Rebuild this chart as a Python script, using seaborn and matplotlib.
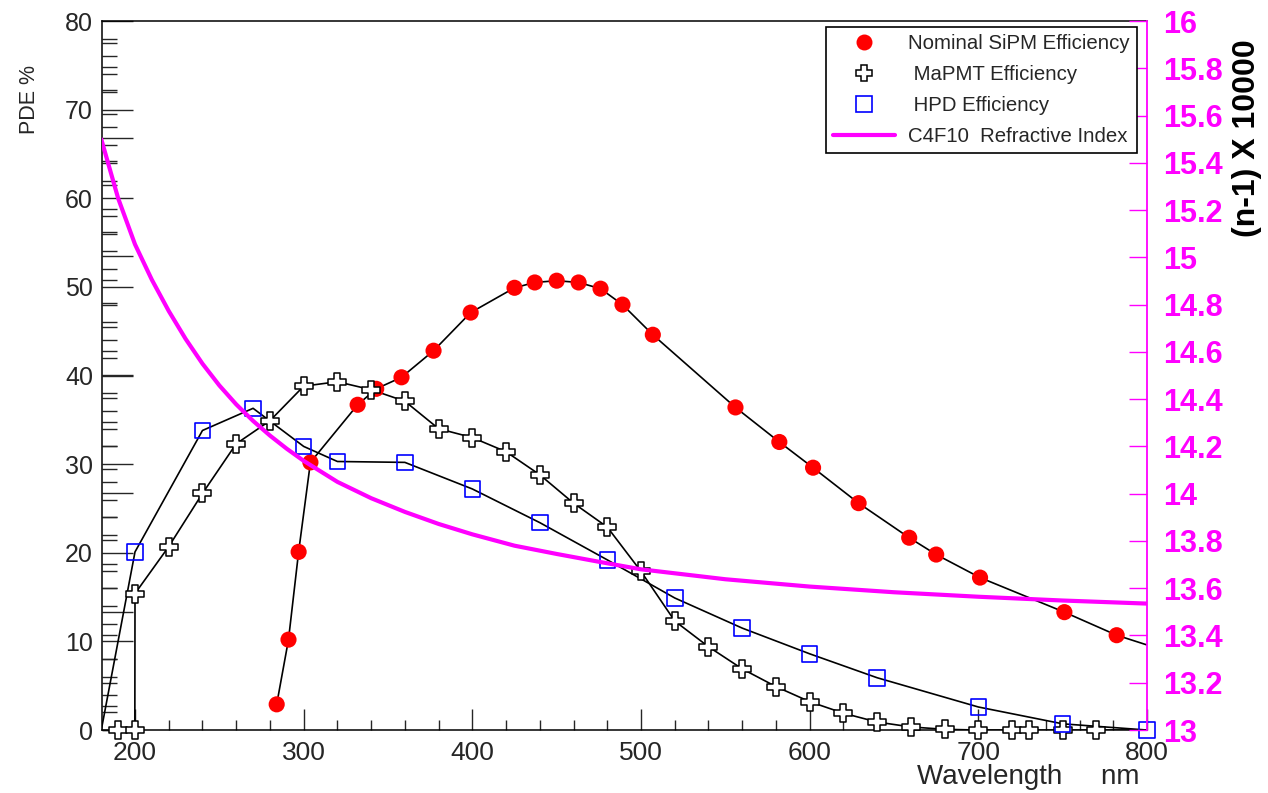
import matplotlib
matplotlib.use("Agg")
import matplotlib.pyplot as plt
from matplotlib.lines import Line2D
from matplotlib.ticker import MultipleLocator, FuncFormatter
import seaborn as sns
import numpy as np

# Nominal SiPM PDE (%)
sipm_nm = [284, 291, 297, 304, 332, 343, 358, 377, 399, 425, 437, 450, 463, 476, 489,
           507, 556, 582, 602, 629, 659, 675, 701, 751, 782]
sipm_pde = [2.9, 10.2, 20.1, 30.2, 36.7, 38.5, 39.8, 42.8, 47.1, 49.9, 50.5, 50.7, 50.5,
            49.8, 48.0, 44.6, 36.4, 32.5, 29.6, 25.6, 21.7, 19.8, 17.2, 13.3, 10.7]
sipm_tail_nm = [800]
sipm_tail_pde = [9.6]

# MaPMT efficiency (%)
mapmt_nm = [190, 199.9, 200, 220, 240, 260, 280, 300, 320, 340, 360, 380, 400, 420, 440,
            460, 480, 500, 520, 540, 560, 580, 600, 620, 640, 660, 680, 700, 720, 730,
            750, 770]
mapmt_pde = [0, 0, 15.4, 20.7, 26.7, 32.3, 34.9, 38.8, 39.3, 38.4, 37.1, 34.0, 33.0, 31.4,
             28.8, 25.6, 22.9, 17.9, 12.3, 9.4, 6.9, 4.9, 3.2, 1.9, 0.9, 0.35, 0.08, 0, 0,
             0, 0, 0]
mapmt_tail_nm = [800]
mapmt_tail_pde = [0]

# HPD efficiency (%)
hpd_nm = [200, 240, 270, 300, 320, 360, 400, 440, 480, 520, 560, 600, 640, 700, 750, 800]
hpd_pde = [20.1, 33.8, 36.3, 32.0, 30.3, 30.2, 27.2, 23.4, 19.2, 14.9, 11.5, 8.6, 5.9,
           2.6, 0.7, 0.0]
hpd_head_nm = [180]
hpd_head_pde = [0]

# C4F10 (n-1) x 10000
c4f10_nm = [180, 190, 200, 210, 220, 230, 240, 250, 260, 270, 280, 290, 300, 320, 340,
            360, 380, 400, 425, 450, 475, 500, 550, 600, 650, 700, 750, 800]
c4f10_n = [15.50, 15.25, 15.055, 14.905, 14.773, 14.655, 14.55, 14.458, 14.378, 14.308,
           14.246, 14.19, 14.139, 14.05, 13.981, 13.923, 13.872, 13.828, 13.78, 13.745,
           13.712, 13.68, 13.638, 13.607, 13.583, 13.564, 13.548, 13.535]

sns.set_style("ticks")
plt.rcParams['font.family'] = ['Liberation Sans', 'DejaVu Sans']

fig, ax = plt.subplots(figsize=(12.68, 7.93), dpi=100)
fig.subplots_adjust(left=0.0804, right=0.9046, bottom=0.0794, top=0.9735)

# connecting lines
sns.lineplot(x=sipm_nm + sipm_tail_nm, y=sipm_pde + sipm_tail_pde, sort=False,
             estimator=None, color='black', lw=1.2, ax=ax)
sns.lineplot(x=mapmt_nm + mapmt_tail_nm, y=mapmt_pde + mapmt_tail_pde, sort=False,
             estimator=None, color='black', lw=1.2, ax=ax)
sns.lineplot(x=hpd_head_nm + hpd_nm, y=hpd_head_pde + hpd_pde, sort=False,
             estimator=None, color='black', lw=1.2, ax=ax)

# markers
sns.scatterplot(x=sipm_nm, y=sipm_pde, marker='o', s=135, color='red', edgecolor='none',
                ax=ax, zorder=4, clip_on=False)
sns.scatterplot(x=mapmt_nm, y=mapmt_pde, marker='P', s=150, facecolor='white',
                edgecolor='black', linewidth=1.1, ax=ax, zorder=4, clip_on=False)
sns.scatterplot(x=hpd_nm, y=hpd_pde, marker='s', s=125, facecolor='none',
                edgecolor='blue', linewidth=1.2, ax=ax, zorder=4, clip_on=False)

ax.set_xlim(180.4, 800)
ax.set_ylim(0, 80)
ax.xaxis.set_major_locator(MultipleLocator(100))
ax.xaxis.set_minor_locator(MultipleLocator(20))
ax.yaxis.set_major_locator(MultipleLocator(10))
ax.yaxis.set_minor_locator(MultipleLocator(2))
ax.tick_params(axis='x', which='major', direction='in', length=15, width=1.0,
               labelsize=19, pad=8, top=False)
ax.tick_params(axis='x', which='minor', direction='in', length=7.2, width=1.0, top=False)
ax.tick_params(axis='y', which='major', direction='in', length=22, width=1.0,
               labelsize=18, pad=6.5, right=False)
ax.tick_params(axis='y', which='minor', direction='in', length=11, width=1.0, right=False)
for s in ['left', 'bottom', 'top']:
    ax.spines[s].set_linewidth(1.1)
    ax.spines[s].set_color('black')
ax.spines['right'].set_visible(False)

# second overlaid tick set on the left axis (frame of another graph)
sec = ax.secondary_yaxis('left', functions=(lambda y: y * 0.748, lambda y: y / 0.748))
sec.yaxis.set_major_locator(MultipleLocator(10))
sec.yaxis.set_minor_locator(MultipleLocator(2))
sec.tick_params(axis='y', which='major', direction='in', length=22, width=1.0,
                labelleft=False)
sec.tick_params(axis='y', which='minor', direction='in', length=11, width=1.0,
                labelleft=False)
sec.spines['left'].set_visible(False)

ax.set_xlabel("Wavelength     nm", fontsize=20, ha='right', va='center')
ax.xaxis.set_label_coords(0.993, -0.066)
ax.set_ylabel("PDE %", fontsize=15.5, ha='center', va='center')
ax.yaxis.set_label_coords(-0.069, 0.889)

# right axis: refractive index
ax2 = ax.twinx()
sns.lineplot(x=c4f10_nm, y=c4f10_n, sort=False, estimator=None, color='#ff00ff', lw=3,
             ax=ax2)
ax2.set_ylim(13, 16)
ax2.set_yticks(np.arange(13, 16.001, 0.2))
ax2.yaxis.set_major_formatter(FuncFormatter(lambda v, p: f"{v:g}"))
ax2.tick_params(axis='y', which='major', direction='in', length=13, width=1.0,
                colors='#ff00ff', labelsize=22, pad=11.5)
for lab in ax2.get_yticklabels():
    lab.set_fontweight('bold')
for s in ['left', 'bottom', 'top']:
    ax2.spines[s].set_visible(False)
ax2.spines['right'].set_color('#ff00ff')
ax2.spines['right'].set_linewidth(1.3)
ax2.set_ylabel("(n-1) X 10000", fontsize=23, fontweight='bold', color='black',
               rotation=90, ha='center', va='center')
ax2.yaxis.set_label_coords(1.0957, 0.835)

handles = [
    Line2D([], [], ls='none', marker='o', ms=11.5, mfc='red', mec='none'),
    Line2D([], [], ls='none', marker='P', ms=11, mfc='white', mec='black', mew=1.1),
    Line2D([], [], ls='none', marker='s', ms=11, mfc='none', mec='blue', mew=1.2),
    Line2D([], [], color='#ff00ff', lw=3),
]
labels = ["Nominal SiPM Efficiency", " MaPMT Efficiency", " HPD Efficiency",
          "C4F10  Refractive Index"]
leg = ax2.legend(handles, labels, loc='upper right', bbox_to_anchor=(0.990, 0.9915),
                 fontsize=14.7, frameon=True, fancybox=False, edgecolor='black',
                 framealpha=1, handlelength=3.0, handletextpad=0.64, labelspacing=0.58,
                 borderpad=0.36, borderaxespad=0)
leg.get_frame().set_linewidth(1.2)

fig.savefig("out.png", dpi=100)
